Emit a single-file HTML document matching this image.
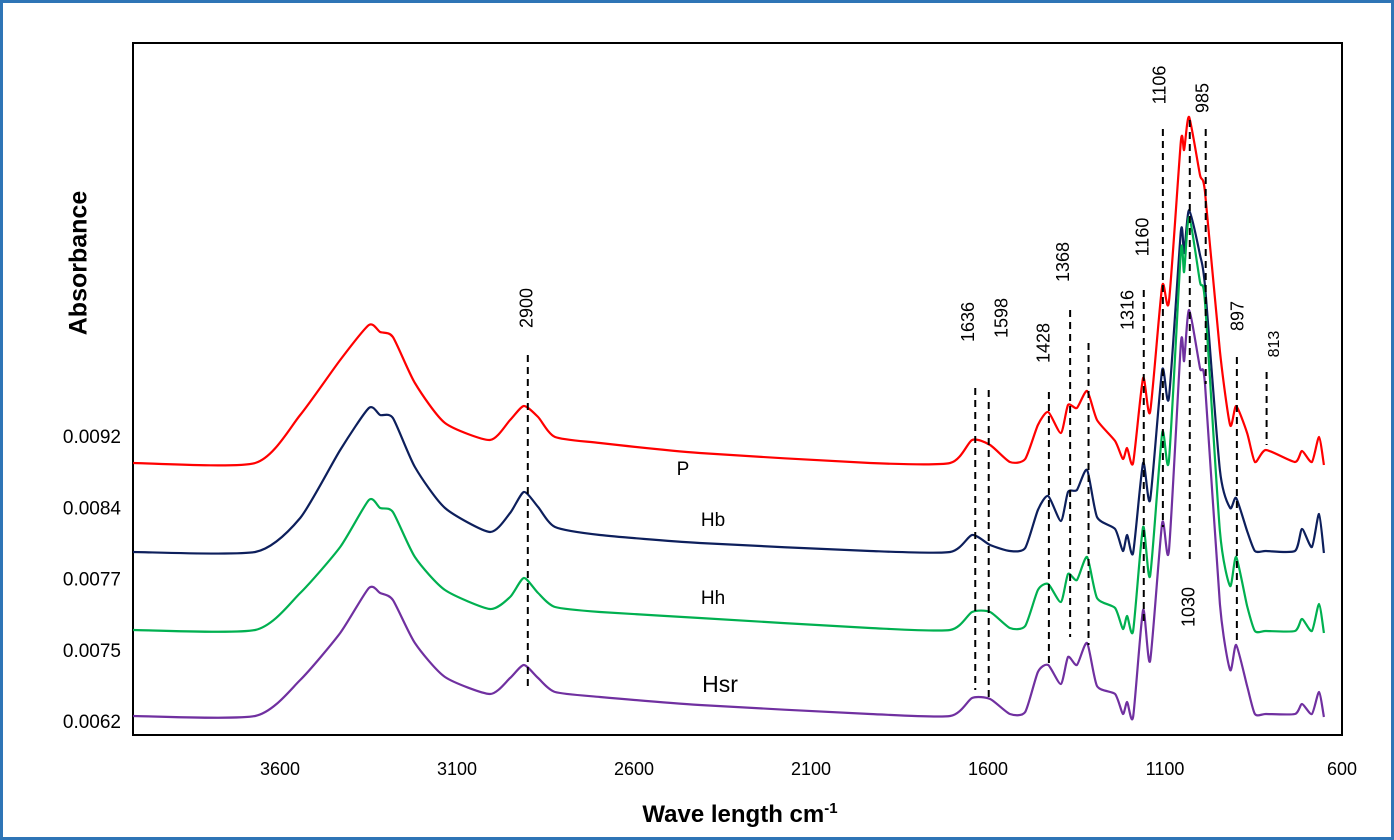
<!DOCTYPE html>
<html><head><meta charset="utf-8"><style>
html,body{margin:0;padding:0;background:#fff;}
#wrap{position:relative;width:1394px;height:840px;box-sizing:border-box;border:3px solid #2e75b6;background:#fff;}
svg{position:absolute;left:-3px;top:-3px;}
text{font-family:"Liberation Sans",sans-serif;}
</style></head><body>
<div id="wrap">
<svg id="chart" width="1394" height="840"></svg>
</div>
<script>
// ---- data ----
const wavenumbers = [4015,3670,3543,3430,3349,3317,3281,3219,3134,3007,2950,2911,2871,2823,2696,2414,1933,1707,1645,1594,1538,1495,1459,1430,1394,1374,1349,1320,1292,1241,1219,1207,1190,1162,1142,1108,1089,1055,1046,1032,1001,987,945,916,899,868,846,815,733,713,685,665,651];
const seriesP   = [272,272,320,375,410,403,398,352,312,295,315,329,318,298,292,282,272,272,295,290,273,276,310,323,302,330,327,344,315,294,276,287,272,357,323,449,433,594,585,618,560,543,384,310,329,302,273,285,273,284,273,298,270];
const seriesHb  = [183,183,217,285,327,320,317,268,227,203,222,243,228,208,200,192,184,183,200,190,184,187,225,239,214,243,245,265,218,206,184,200,182,272,235,365,337,504,482,525,480,449,265,227,237,204,184,184,184,206,188,221,182];
const seriesHh  = [105,105,142,188,235,227,223,178,145,126,138,157,142,128,123,117,107,105,123,123,107,109,145,151,133,161,155,178,137,127,106,119,104,208,159,302,274,484,463,518,453,433,204,149,178,129,104,104,104,116,104,131,102];
const seriesHsr = [19,19,55,102,147,142,135,92,58,41,57,70,57,43,38,30,21,19,37,36,21,23,63,70,51,78,70,92,49,41,21,33,18,125,74,212,184,392,374,425,367,351,131,65,90,49,21,21,21,31,21,43,18];
const xTickValues = [3600,3100,2600,2100,1600,1100,600];
const yTickLabels = ["0.0092","0.0084","0.0077","0.0075","0.0062"];
const peakLabels = ["2900","1636","1598","1428","1368","1316","1160","1106","1030","985","897","813"];
const peakWn     = [2900,1636,1598,1428,1368,1316,1160,1106,1030,985,897,813];

// ---- layout ----
const PL=133, PR=1342, PT=43, PB=735;
const xScale = wn => 1165 + (1100 - wn) * 0.354;
const yScale = v => PB - v;
const NS="http://www.w3.org/2000/svg";
const svg=document.getElementById('chart');
function mk(tag, attrs){const e=document.createElementNS(NS,tag);for(const k in attrs)e.setAttribute(k,attrs[k]);svg.appendChild(e);return e;}

const box=mk('rect',{x:PL,y:PT,width:PR-PL,height:PB-PT,fill:'none',stroke:'#000','stroke-width':2});



function smoothPath(pts){
  let d='M'+pts[0][0].toFixed(1)+','+pts[0][1].toFixed(1);
  const t=0.22;
  for(let i=0;i<pts.length-1;i++){
    const p0=pts[Math.max(0,i-1)],p1=pts[i],p2=pts[i+1],p3=pts[Math.min(pts.length-1,i+2)];
    const c1x=p1[0]+(p2[0]-p0[0])*t/2, c1y=p1[1]+(p2[1]-p0[1])*t/2;
    const c2x=p2[0]-(p3[0]-p1[0])*t/2, c2y=p2[1]-(p3[1]-p1[1])*t/2;
    d+=' C'+c1x.toFixed(1)+','+c1y.toFixed(1)+' '+c2x.toFixed(1)+','+c2y.toFixed(1)+' '+p2[0].toFixed(1)+','+p2[1].toFixed(1);
  }
  return d;
}

const series=[["P",seriesP,"#ff0000"],["Hb",seriesHb,"#0d1f5c"],["Hh",seriesHh,"#00b050"],["Hsr",seriesHsr,"#7030a0"]];
series.forEach(s=>{
  const pts=s[1].map((v,i)=>[xScale(wavenumbers[i]),yScale(v)]);
  const p=mk('path',{d:smoothPath(pts),fill:'none',stroke:s[2],'stroke-width':2.2,'stroke-linejoin':'round'});
  
  
});

const peakGeom=[[355,690,0,308,18],[388,690,-6,322,18],[390,700,14,318,18],[392,665,-4,343,18],[310,637,-6,262,18],[343,645,40,310,18],[290,621,0,237,18],[129,527,-2,85,18],[120,563,0,607,18],[129,384,-2,98,18],[357,645,2,316,18],[372,445,8,344,16]];
peakLabels.forEach((lab,i)=>{
  const x=xScale(peakWn[i]); const g=peakGeom[i];
  const l=mk('line',{x1:x,y1:g[0],x2:x,y2:g[1],stroke:'#000','stroke-width':2,'stroke-dasharray':'7,5'});
  
  
  const tx=x+g[2], ty=g[3];
  const t=mk('text',{x:tx,y:ty,'font-size':g[4],'text-anchor':'middle','dominant-baseline':'middle',transform:'rotate(-90 '+tx+' '+ty+')',fill:'#000'});
  t.textContent=lab;
  
  
});

xTickValues.forEach(v=>{
  const t=mk('text',{x:xScale(v),y:775,'font-size':18,'text-anchor':'middle',fill:'#000'});
  t.textContent=v;
  
  
});
yTickLabels.forEach((lab,i)=>{
  const t=mk('text',{x:121,y:443+i*71.3,'font-size':19,'text-anchor':'end',fill:'#000'});
  t.textContent=lab;
  
  
});

const lblP=mk('text',{x:683,y:475,'font-size':19,'text-anchor':'middle'});lblP.textContent='P';


const lblHb=mk('text',{x:713,y:526,'font-size':19,'text-anchor':'middle'});lblHb.textContent='Hb';


const lblHh=mk('text',{x:713,y:604,'font-size':19,'text-anchor':'middle'});lblHh.textContent='Hh';


const lblHsr=mk('text',{x:720,y:692,'font-size':23,'text-anchor':'middle'});lblHsr.textContent='Hsr';



const xt=mk('text',{x:740,y:822,'font-size':24,'font-weight':'bold','text-anchor':'middle'});
xt.innerHTML='Wave length cm<tspan dy="-9" font-size="15">-1</tspan>';


const yt=mk('text',{x:80,y:263,'font-size':25,'font-weight':'bold','text-anchor':'middle','dominant-baseline':'middle',transform:'rotate(-90 80 263)'});
yt.textContent='Absorbance';


</script>
</body></html>
